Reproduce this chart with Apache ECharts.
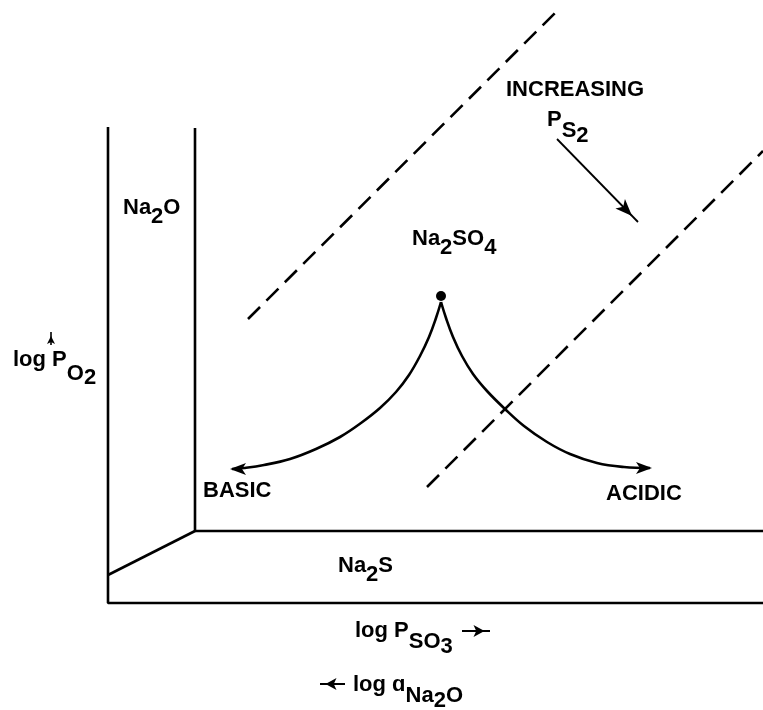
<!DOCTYPE html>
<html>
<head>
<meta charset="utf-8">
<script src="https://cdn.jsdelivr.net/npm/echarts@6/dist/echarts.min.js"></script>
<style>
  html, body { margin: 0; padding: 0; background: #fff; }
  #chart { width: 763px; height: 710px; }
</style>
</head>
<body>
<div id="chart"></div>
<script>
// diagram coordinates: x to the right, y downward, one unit per pixel
const outerWall = [[108, 127], [108, 603], [763, 603]];
const innerWall = [[195, 128], [195, 531], [763, 531]];
const floorEdge = [[108, 575], [195, 531]];

const dashedUpper = [[248, 319], [555, 13]];
const dashedLower = [[427, 487], [763, 151]];

const triplePoint = [[441, 296]];
const basicBranch = [[441, 302], [436, 318], [429, 337], [420, 356], [409, 375], [396, 392],
  [380, 408], [361, 423], [340, 437], [316, 449], [290, 459], [264, 465], [244, 468], [232, 469]];
const acidicBranch = [[441, 302], [446, 318], [453, 337], [462, 356], [473, 374], [487, 391],
  [505, 409], [524, 426], [547, 442], [570, 454], [597, 463], [624, 467], [650, 468]];
const basicTip = [222, 469];
const acidicTip = [660, 468];

// straight arrows: [from, to]
const ps2Arrow = [[557, 139], [638, 222]];
const po2Arrow = [[51, 345], [51, 332]];
const pso3Arrow = [[462, 631], [490, 631]];
const aNa2oArrow = [[345, 684], [320, 684]];

// annotations: [x, y, text]
const annotations = [
  [123, 197, '{m|Na}{a|2}{m|O}'],
  [412, 228, '{m|Na}{a|2}{m|SO}{a|4}'],
  [506, 79, '{m|INCREASING}'],
  [547, 109, '{m|P}{b|S}{c|2}'],
  [203, 480, '{m|BASIC}'],
  [606, 483, '{m|ACIDIC}'],
  [338, 555, '{m|Na}{a|2}{m|S}'],
  [355, 620, '{m|log P}{b|SO}{c|3}'],
  [353, 674, '{m|log ɑ}{b|Na}{c|2}{b|O}'],
  [13, 349, '{m|log P}{d|O}{e|2}']
];

const INK = '#000';
const FONT = '"Liberation Sans", Arial, sans-serif';

function txt(offset) {
  return {
    fontSize: 22, fontWeight: 'bold', fontFamily: FONT, color: INK,
    verticalAlign: 'top', padding: [offset, 0, 0, 0]
  };
}

function stroke(points, width, dash) {
  return {
    type: 'line', data: points, symbol: 'none', silent: true, z: 2,
    lineStyle: { color: INK, width: width, type: dash || 'solid', cap: 'butt', opacity: 1 }
  };
}

// arrowhead placed so its point sits on the tip, aimed along from -> tip
function head(from, tip, len, wid) {
  const dx = tip[0] - from[0], dy = tip[1] - from[1];
  const d = Math.sqrt(dx * dx + dy * dy);
  const ux = dx / d, uy = dy / d;
  // 'arrow' points up on screen; rotate clockwise to the direction
  const cw = Math.atan2(ux, -uy) * 180 / Math.PI;
  return {
    value: [tip[0] - ux * len / 2, tip[1] - uy * len / 2],
    symbolRotate: -cw,
    symbolSize: [wid, len]
  };
}

const heads = [
  head(basicBranch[basicBranch.length - 1], basicTip, 16, 9),
  head(acidicBranch[acidicBranch.length - 1], acidicTip, 16, 9),
  head(ps2Arrow[0], ps2Arrow[1], 17, 10),
  head(po2Arrow[0], po2Arrow[1], 8, 6),
  head(pso3Arrow[0], pso3Arrow[1], 11, 9),
  head(aNa2oArrow[0], aNa2oArrow[1], 11, 9)
];

const chart = echarts.init(document.getElementById('chart'), null, { renderer: 'canvas' });

chart.setOption({
  animation: false,
  backgroundColor: '#fff',
  grid: { left: 0, right: 0, top: 0, bottom: 0 },
  xAxis: { type: 'value', min: 0, max: 763, show: false },
  yAxis: { type: 'value', min: 0, max: 710, inverse: true, show: false },
  series: [
    stroke(outerWall, 2.6),
    stroke(innerWall, 2.6),
    stroke(floorEdge, 2.6),
    stroke(dashedUpper, 2.6, [17, 9]),
    stroke(dashedLower, 2.6, [17, 9]),
    Object.assign(stroke(basicBranch, 2.6), { smooth: 0.4 }),
    Object.assign(stroke(acidicBranch, 2.6), { smooth: 0.4 }),
    stroke(ps2Arrow, 1.8),
    stroke(po2Arrow, 1.6),
    stroke(pso3Arrow, 2),
    stroke(aNa2oArrow, 2),
    {
      type: 'scatter', data: heads, symbol: 'arrow', silent: true, z: 3,
      itemStyle: { color: INK, opacity: 1 }
    },
    {
      type: 'scatter', data: triplePoint, symbolSize: 10, silent: true, z: 3,
      itemStyle: { color: INK, opacity: 1 }
    },
    {
      type: 'scatter', symbolSize: 0, silent: true, z: 4,
      itemStyle: { opacity: 1 },
      data: annotations.map(a => ({ value: [a[0], a[1]], label: { formatter: a[2] } })),
      label: {
        show: true, position: [0, 0], align: 'left', verticalAlign: 'top', opacity: 1,
        rich: { m: txt(0), a: txt(9), b: txt(11), c: txt(16), d: txt(14), e: txt(18) }
      }
    }
  ]
});
</script>
</body>
</html>
